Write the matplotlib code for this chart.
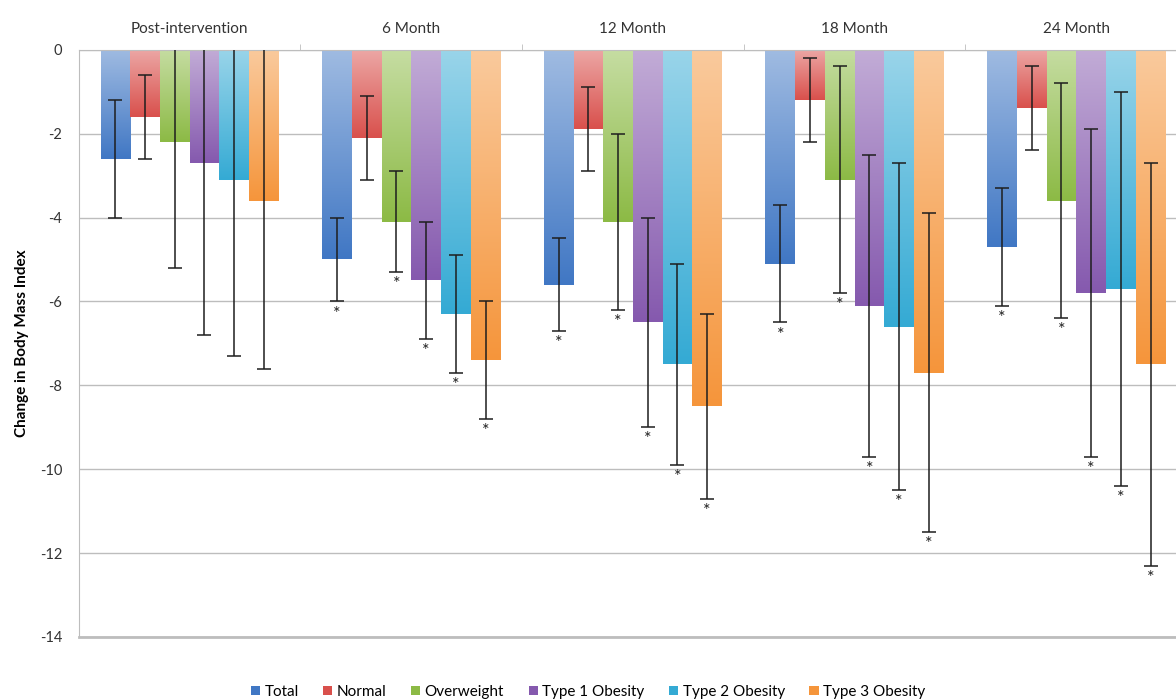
import matplotlib
matplotlib.use('Agg')
import matplotlib.pyplot as plt
import numpy as np
from matplotlib.colors import LinearSegmentedColormap, to_rgb
from matplotlib.patches import Patch

plt.rcParams['font.family'] = ['Lato', 'DejaVu Sans']

#-------|DATA|---------
groups = ['Post-intervention', '6 Month', '12 Month', '18 Month', '24 Month']
series = ['Total', 'Normal', 'Overweight', 'Type 1 Obesity', 'Type 2 Obesity', 'Type 3 Obesity']

total = [-2.6, -5.0, -5.6, -5.1, -4.7]
normal = [-1.6, -2.1, -1.9, -1.2, -1.4]
overweight = [-2.2, -4.1, -4.1, -3.1, -3.6]
type1 = [-2.7, -5.5, -6.5, -6.1, -5.8]
type2 = [-3.1, -6.3, -7.5, -6.6, -5.7]
type3 = [-3.6, -7.4, -8.5, -7.7, -7.5]

total_err = [1.4, 1.0, 1.1, 1.4, 1.4]
normal_err = [1.0, 1.0, 1.0, 1.0, 1.0]
overweight_err = [3.0, 1.2, 2.1, 2.7, 2.8]
type1_err = [4.1, 1.4, 2.5, 3.6, 3.9]
type2_err = [4.2, 1.4, 2.4, 3.9, 4.7]
type3_err = [4.0, 1.4, 2.2, 3.8, 4.8]

# significance flags (asterisk under the error bar)
total_sig = [0, 1, 1, 1, 1]
normal_sig = [0, 0, 0, 0, 0]
overweight_sig = [0, 1, 1, 1, 1]
type1_sig = [0, 1, 1, 1, 1]
type2_sig = [0, 1, 1, 1, 1]
type3_sig = [0, 1, 1, 1, 1]

values = [total, normal, overweight, type1, type2, type3]
errors = [total_err, normal_err, overweight_err, type1_err, type2_err, type3_err]
sigs = [total_sig, normal_sig, overweight_sig, type1_sig, type2_sig, type3_sig]

colors = ['#4077C4', '#D9504C', '#8CBA45', '#8559AE', '#34AAD4', '#F5953B']

#-------|PLOT|---------
fig = plt.figure(figsize=(11.76, 7.0), dpi=100)
ax = fig.add_axes([0.067, 0.09, 0.933, 0.839])

x = np.arange(len(groups))
w = 0.134

for i in range(len(series)):
    xs = x + (i - 2.5) * w
    bars = ax.bar(xs, values[i], width=w, color='none', edgecolor='none', zorder=2)
    base = np.array(to_rgb(colors[i]))
    light = base + (1 - base) * 0.5
    cmap = LinearSegmentedColormap.from_list('g%d' % i, [light, base])
    grad = np.linspace(0, 1, 256).reshape(-1, 1)
    for b in bars:
        x0 = b.get_x()
        x1 = x0 + b.get_width()
        y0 = b.get_y() + b.get_height()
        ax.imshow(grad, extent=[x0, x1, y0, 0], aspect='auto', cmap=cmap,
                  origin='upper', zorder=2, interpolation='bicubic')
    ax.errorbar(xs, values[i], yerr=errors[i], fmt='none', ecolor='#1e1e1e',
                elinewidth=1.1, capsize=5, capthick=1.1, zorder=3)
    for j in range(len(groups)):
        if sigs[i][j]:
            ax.text(xs[j], values[i][j] - errors[i][j] - 0.1, '*', ha='center',
                    va='top', fontsize=13, color='#222222', zorder=4)

ax.set_xlim(-0.5, 4.45)
ax.set_ylim(-14, 0)
ax.set_yticks(np.arange(-14, 1, 2))
ax.set_yticklabels([str(v) for v in range(-14, 1, 2)])
ax.yaxis.grid(True, color='#bdbdbd', linewidth=1)
ax.set_axisbelow(True)

ax.xaxis.tick_top()
ax.set_xticks(x)
ax.set_xticklabels(groups, fontsize=11, color='#333333')
ax.set_xticks(x[:-1] + 0.5, minor=True)
ax.tick_params(axis='x', which='major', length=0, pad=10)
ax.tick_params(axis='x', which='minor', length=4, color='#bdbdbd', top=True, bottom=False)
ax.tick_params(axis='y', length=0, labelsize=10.5, colors='#333333', pad=12)

ax.spines['right'].set_visible(False)
ax.spines['top'].set_color('#bdbdbd')
ax.spines['left'].set_color('#bdbdbd')
ax.spines['bottom'].set_color('#bdbdbd')
ax.spines['bottom'].set_linewidth(2)

ax.set_ylabel('Change in Body Mass Index', fontsize=11, fontweight='bold', labelpad=8)

handles = [Patch(facecolor=colors[i], edgecolor='none') for i in range(len(series))]
fig.legend(handles, series, loc='lower center', bbox_to_anchor=(0.5, -0.018), ncol=6,
           frameon=False, fontsize=11, handlelength=0.6, handleheight=0.6,
           handletextpad=0.3, columnspacing=1.6)

plt.savefig('out.png', dpi=100)
